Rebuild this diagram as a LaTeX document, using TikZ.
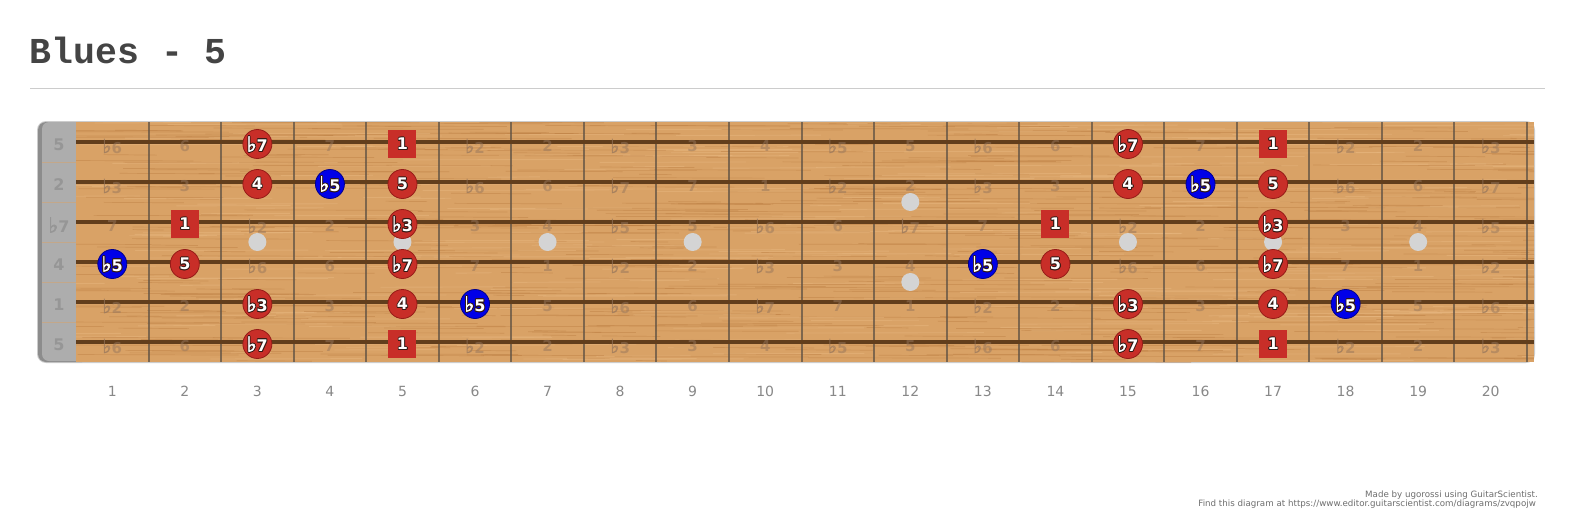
\documentclass[tikz,border=0pt]{standalone}
\usepackage{fontspec}
\setmainfont{DejaVu Sans}
\newfontfamily\titlefont{Liberation Mono}
\newfontfamily\flatfont[FakeBold=2.5]{DejaVu Sans}
\usetikzlibrary{positioning,calc}
\definecolor{woodBase}{RGB}{217,162,102}
\definecolor{woodGrain}{RGB}{176,110,50}
\definecolor{woodLight}{RGB}{238,192,138}
\definecolor{stringBrown}{RGB}{98,62,28}
\definecolor{fretGray}{RGB}{96,82,68}
\definecolor{nutGray}{RGB}{173,173,173}
\definecolor{nutEdge}{RGB}{140,140,140}
\definecolor{nutText}{RGB}{150,150,150}
\definecolor{noteRed}{RGB}{200,46,40}
\definecolor{noteRedDark}{RGB}{150,28,24}
\definecolor{noteBlue}{RGB}{0,0,232}
\definecolor{noteBlueDark}{RGB}{0,0,140}
\definecolor{labelEdge}{RGB}{50,25,20}
\definecolor{dotGray}{RGB}{212,212,212}
\definecolor{faintBrown}{RGB}{150,118,92}
\definecolor{titleGray}{RGB}{68,68,68}
\definecolor{ruleGray}{RGB}{204,204,204}
\definecolor{numGray}{RGB}{136,136,136}
\definecolor{creditGray}{RGB}{110,110,110}
\newcommand{\fl}{\scalebox{1.3}{\flatfont ♭}}
\newcommand{\ivname}[1]{\ifcase#1 1\or\fl2\or2\or\fl3\or3\or4\or\fl5\or5\or\fl6\or6\or\fl7\or7\fi}
% white label with a dark rim, drawn on top of a marker
\newcommand{\marklabel}[2]{%
  \foreach \ox/\oy in {-0.9/0,0.9/0,0/-0.9,0/0.9,-0.65/-0.65,0.65/0.65,-0.65/0.65,0.65/-0.65}
    \node[marktext, text=labelEdge] at ([shift={(\ox,\oy)}]#1) {#2};
  \node[marktext, text=white] at (#1) {#2};}

\begin{document}
\begin{tikzpicture}[x=1pt, y=-1pt, every node/.style={inner sep=0pt},
    rnote/.style={circle, fill=noteRed, draw=noteRedDark, line width=0.8pt, minimum size=29pt},
    bnote/.style={circle, fill=noteBlue, draw=noteBlueDark, line width=0.8pt, minimum size=29pt},
    rootbox/.style={rectangle, fill=noteRed, minimum size=28pt},
    marktext/.style={font=\fontsize{16}{19}\selectfont\bfseries},
    faint/.style={font=\fontsize{15}{18}\selectfont\bfseries, text=faintBrown, text opacity=0.5},
    nutlab/.style={font=\fontsize{16}{19}\selectfont\bfseries, text=nutText},
    fretnum/.style={font=\fontsize{14}{17}\selectfont, text=numGray, anchor=base},
    fretline/.style={draw=fretGray, line width=2pt, opacity=0.75},
    stringline/.style={draw=stringBrown, line width=3.3pt}]
    \useasboundingbox (0,0) rectangle (1573,519);
    \fill[white] (0,0) rectangle (1573,519);

    % title and rule
    \node[font=\titlefont\fontsize{36.5}{40}\selectfont\bfseries, text=titleGray, anchor=base west] (title) at (29.5,63.3) {Blues - 5};
    \draw[ruleGray, line width=1pt] (30,88) -- (1545,88);

    % board frame and nut column
    \fill[ruleGray, rounded corners=9pt] (37,121) rectangle (1535,363);
    \fill[nutEdge, rounded corners=8pt] (38,122) rectangle (90,362);
    \fill[nutGray, rounded corners=7pt] (42,122) rectangle (90,361);
    \foreach \s in {1,...,5}
        \draw[woodBase, opacity=0.5, line width=0.6pt] (42,{122+40*\s}) -- (76,{122+40*\s});
    \foreach \s/\t in {1/5,2/2,3/\fl7,4/4,5/1,6/5}
        \node[nutlab] (o\s) at (59,{145+40*(\s-1)}) {\t};

    % wood
    \begin{scope}
        \clip (76,122) rectangle (1534,362);
        \fill[woodBase] (76,122) rectangle (1534,362);
        \pgfmathsetseed{42}
        \foreach \k in {1,...,520}{
            \pgfmathsetmacro\gx{20+1520*rnd}
            \pgfmathsetmacro\gy{122+240*rnd}
            \pgfmathsetmacro\gl{30+170*rnd}
            \draw[woodGrain, line width=0.7pt, opacity=0.3] (\gx,\gy) -- ++(\gl,0.5);
        }
        \foreach \k in {1,...,300}{
            \pgfmathsetmacro\gx{20+1520*rnd}
            \pgfmathsetmacro\gy{122+240*rnd}
            \pgfmathsetmacro\gl{30+170*rnd}
            \draw[woodLight, line width=0.9pt, opacity=0.35] (\gx,\gy) -- ++(\gl,-0.4);
        }
    \end{scope}

    % frets and strings
    \foreach \f in {1,...,20}
        \draw[fretline] ({76+72.55*\f},122) -- ({76+72.55*\f},362);
    \foreach \s in {1,...,6}
        \draw[stringline] (76,{142+40*(\s-1)}) -- (1534,{142+40*(\s-1)});

    % faint interval names on every fret
    \foreach \s/\o in {1/7,2/2,3/10,4/5,5/0,6/7}
        \foreach \f in {1,...,20}{
            \pgfmathtruncatemacro\iv{mod(\o+\f,12)}
            \node[faint] (i\s f\f) at ({76+72.55*(\f-0.5)},{146+40*(\s-1)}) {\ivname{\iv}};
        }

    % inlay dots
    \foreach \f in {3,5,7,9,15,17,19}
        \fill[dotGray] ({76+72.55*(\f-0.5)},242) circle (9);
    \fill[dotGray] ({76+72.55*11.5},202) circle (9);
    \fill[dotGray] ({76+72.55*11.5},282) circle (9);

    % scale notes
    \foreach \s/\f/\t in {1/3/\fl7,1/15/\fl7,2/3/4,2/5/5,2/15/4,2/17/5,3/5/\fl3,3/17/\fl3,
            4/2/5,4/5/\fl7,4/14/5,4/17/\fl7,5/3/\fl3,5/5/4,5/15/\fl3,5/17/4,6/3/\fl7,6/15/\fl7}{
        \node[rnote] (s\s f\f) at ({76+72.55*(\f-0.5)},{144+40*(\s-1)}) {};
        \marklabel{s\s f\f}{\t}
    }
    \foreach \s/\f in {2/4,2/16,4/1,4/13,5/6,5/18}{
        \node[bnote] (s\s f\f) at ({76+72.55*(\f-0.5)},{144+40*(\s-1)}) {};
        \marklabel{s\s f\f}{\fl5}
    }
    \foreach \s/\f in {1/5,1/17,3/2,3/14,6/5,6/17}{
        \node[rootbox] (s\s f\f) at ({76+72.55*(\f-0.5)},{144+40*(\s-1)}) {};
        \marklabel{s\s f\f}{1}
    }

    % fret numbers
    \foreach \f in {1,...,20}
        \node[fretnum] (n\f) at ({76+72.55*(\f-0.5)},396) {\f};

    % credits
    \node[font=\fontsize{8.7}{10}\selectfont, text=creditGray, anchor=base east] (made) at (1538,497.5) {Made by ugorossi using GuitarScientist.};
    \node[font=\fontsize{8.7}{10}\selectfont, text=creditGray, anchor=base east] (link) at (1536,506.5) {Find this diagram at https://www.editor.guitarscientist.com/diagrams/zvqpojw};
\end{tikzpicture}
\end{document}
